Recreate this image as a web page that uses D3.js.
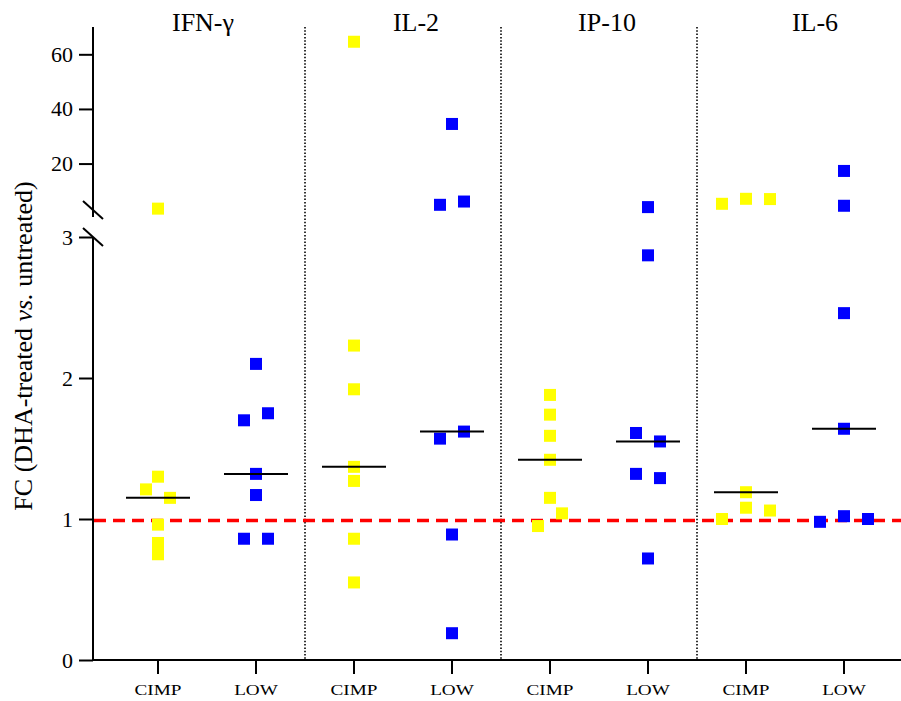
<!DOCTYPE html>
<head>
  <meta charset="utf-8">
  <script src="https://d3js.org/d3.v7.min.js"></script>
</head>
<body>
  <div id="chart"></div>

  <script>
    // cytokines (one panel each) and the two groups in every panel
    var cytokines = ['IFN-\u03b3', 'IL-2', 'IP-10', 'IL-6'];
    var groups = ['CIMP', 'LOW'];

    // fold change values, one array per panel/group
    var ifnCimp = [3.5, 1.30, 1.21, 1.15, 0.96, 0.83, 0.75];
    var ifnLow  = [2.10, 1.75, 1.70, 1.32, 1.17, 0.86, 0.86];
    var il2Cimp = [64.6, 2.23, 1.92, 1.37, 1.27, 0.86, 0.55];
    var il2Low  = [34.5, 6.1, 4.9, 1.62, 1.57, 0.89, 0.19];
    var ip10Cimp = [1.88, 1.74, 1.59, 1.42, 1.15, 1.04, 0.95];
    var ip10Low  = [4.06, 2.87, 1.61, 1.55, 1.32, 1.29, 0.72];
    var il6Cimp = [7.1, 7.0, 5.27, 1.19, 1.08, 1.06, 1.00];
    var il6Low  = [17.3, 4.55, 2.46, 1.64, 1.02, 1.00, 0.98];

    // column of each point inside its scatter (0 = centre), same order as values
    var ifnCimpCol = [0, 0, -1, 1, 0, 0, 0];
    var ifnLowCol  = [0, 1, -1, 0, 0, -1, 1];
    var il2CimpCol = [0, 0, 0, 0, 0, 0, 0];
    var il2LowCol  = [0, 1, -1, 1, -1, 0, 0];
    var ip10CimpCol = [0, 0, 0, 0, 0, 1, -1];
    var ip10LowCol  = [0, 0, -1, 1, -1, 1, 0];
    var il6CimpCol = [0, 2, -2, 0, 0, 2, -2];
    var il6LowCol  = [0, 0, 0, 0, 0, 2, -2];

    var lowTicks = [0, 1, 2, 3];
    var highTicks = [20, 40, 60];
    var baseline = 1;

    var series = [
      {cyt: 0, grp: 'CIMP', values: ifnCimp, cols: ifnCimpCol},
      {cyt: 0, grp: 'LOW', values: ifnLow, cols: ifnLowCol},
      {cyt: 1, grp: 'CIMP', values: il2Cimp, cols: il2CimpCol},
      {cyt: 1, grp: 'LOW', values: il2Low, cols: il2LowCol},
      {cyt: 2, grp: 'CIMP', values: ip10Cimp, cols: ip10CimpCol},
      {cyt: 2, grp: 'LOW', values: ip10Low, cols: ip10LowCol},
      {cyt: 3, grp: 'CIMP', values: il6Cimp, cols: il6CimpCol},
      {cyt: 3, grp: 'LOW', values: il6Low, cols: il6LowCol}
    ];
    series.forEach(function(s, i) { s.key = i; });

    var width = 901, height = 701;
    var axisX = 93, axisY = 660;
    var sq = 12;
    var colors = {CIMP: '#ffff00', LOW: '#0000ff'};
    var serif = '"Liberation Serif", "Times New Roman", serif';

    var svg = d3.select('#chart').append('svg')
      .attr('width', width)
      .attr('height', height)
      .style('font-family', serif);

    // x: one position per group, 8 in total
    var x = d3.scalePoint()
      .domain(series.map(d => d.key))
      .range([158, 844]);
    var jitter = d3.scaleLinear().domain([-1, 1]).range([-12, 12]);

    // broken y axis: linear 0-3 below, linear 3-70 above
    var yLow = d3.scaleLinear().domain([0, 3]).range([axisY, 237]);
    var yHigh = d3.scaleLinear().domain([3, 70]).range([210, 27]);
    var y = v => v <= 3 ? yLow(v) : yHigh(v);

    // panel dividers
    var dividers = d3.range(1, cytokines.length).map(i => (x(2 * i - 1) + x(2 * i)) / 2);
    svg.append('g').selectAll('line')
      .data(dividers)
      .join('line')
        .attr('x1', d => d).attr('x2', d => d)
        .attr('y1', 27).attr('y2', axisY)
        .attr('stroke', '#333')
        .attr('stroke-width', 2)
        .attr('stroke-dasharray', '1.5,1.8');

    // panel titles
    var titleShift = [-4, 13, 8, 20];
    svg.append('g').selectAll('text')
      .data(cytokines)
      .join('text')
        .attr('x', (d, i) => (x(2 * i) + x(2 * i + 1)) / 2 + titleShift[i])
        .attr('y', 31)
        .attr('text-anchor', 'middle')
        .attr('font-size', 26)
        .text(d => d);

    // y axes
    var gHigh = svg.append('g')
      .attr('transform', 'translate(' + axisX + ',0)')
      .call(d3.axisLeft(yHigh).tickValues(highTicks).tickFormat(d3.format('d'))
        .tickSize(14).tickPadding(6).tickSizeOuter(0));
    var gLow = svg.append('g')
      .attr('transform', 'translate(' + axisX + ',0)')
      .call(d3.axisLeft(yLow).tickValues(lowTicks).tickFormat(d3.format('d'))
        .tickSize(14).tickPadding(6).tickSizeOuter(0));
    [gHigh, gLow].forEach(function(g) {
      g.attr('font-family', null).attr('font-size', null);
      g.select('.domain').remove();
      g.selectAll('line').attr('stroke-width', 2);
      g.selectAll('text')
        .style('font-family', serif)
        .style('font-size', '22px')
        .attr('fill', '#000');
    });
    svg.append('line')
      .attr('x1', axisX).attr('x2', axisX)
      .attr('y1', yHigh.range()[1]).attr('y2', yHigh.range()[0] + 7)
      .attr('stroke', '#000').attr('stroke-width', 2);
    svg.append('line')
      .attr('x1', axisX).attr('x2', axisX)
      .attr('y1', yLow.range()[1]).attr('y2', axisY + 1)
      .attr('stroke', '#000').attr('stroke-width', 2);

    // break marks
    svg.append('g').selectAll('line')
      .data([yHigh.range()[0], yLow.range()[1]])
      .join('line')
        .attr('x1', axisX - 10).attr('x2', axisX + 10)
        .attr('y1', d => d - 9).attr('y2', d => d + 9)
        .attr('stroke', '#000').attr('stroke-width', 2);

    // y title
    var yTitle = svg.append('text')
      .attr('transform', 'translate(32,' + 346 + ') rotate(-90)')
      .attr('text-anchor', 'middle')
      .style('font-family', serif)
      .attr('font-size', 26);
    yTitle.append('tspan').text('FC (DHA-treated ');
    yTitle.append('tspan').attr('font-style', 'italic').text('vs.');
    yTitle.append('tspan').text(' untreated)');

    // x axis
    svg.append('line')
      .attr('x1', axisX - 1).attr('x2', width)
      .attr('y1', axisY).attr('y2', axisY)
      .attr('stroke', '#000').attr('stroke-width', 2);
    var xTicks = svg.append('g').selectAll('g')
      .data(series)
      .join('g')
        .attr('transform', d => 'translate(' + x(d.key) + ',' + axisY + ')');
    xTicks.append('line')
      .attr('y1', 0).attr('y2', 14)
      .attr('stroke', '#000').attr('stroke-width', 2);
    xTicks.append('text')
      .attr('transform', 'translate(0,35) scale(1.28,1)')
      .attr('text-anchor', 'middle')
      .attr('font-size', 15)
      .text(d => d.grp);

    // baseline at FC = 1
    svg.append('line')
      .attr('x1', axisX + 1).attr('x2', width)
      .attr('y1', y(baseline) + 1.5).attr('y2', y(baseline) + 1.5)
      .attr('stroke', '#ff0000')
      .attr('stroke-width', 3.5)
      .attr('stroke-dasharray', '12,7');

    // points
    var points = [];
    series.forEach(function(s) {
      s.values.forEach(function(v, i) {
        points.push({key: s.key, grp: s.grp, value: v, col: s.cols[i]});
      });
    });
    svg.append('g').selectAll('rect')
      .data(points)
      .join('rect')
        .attr('x', d => x(d.key) + jitter(d.col) - sq / 2)
        .attr('y', d => y(d.value) - sq / 2)
        .attr('width', sq)
        .attr('height', sq)
        .attr('fill', d => colors[d.grp]);

    // medians
    svg.append('g').selectAll('line')
      .data(series)
      .join('line')
        .attr('x1', d => x(d.key) - 32)
        .attr('x2', d => x(d.key) + 32)
        .attr('y1', d => y(d3.median(d.values)))
        .attr('y2', d => y(d3.median(d.values)))
        .attr('stroke', '#000')
        .attr('stroke-width', 2);
  </script>
</body>

<style>
  body { margin: 0; background: #fff; }
</style>
